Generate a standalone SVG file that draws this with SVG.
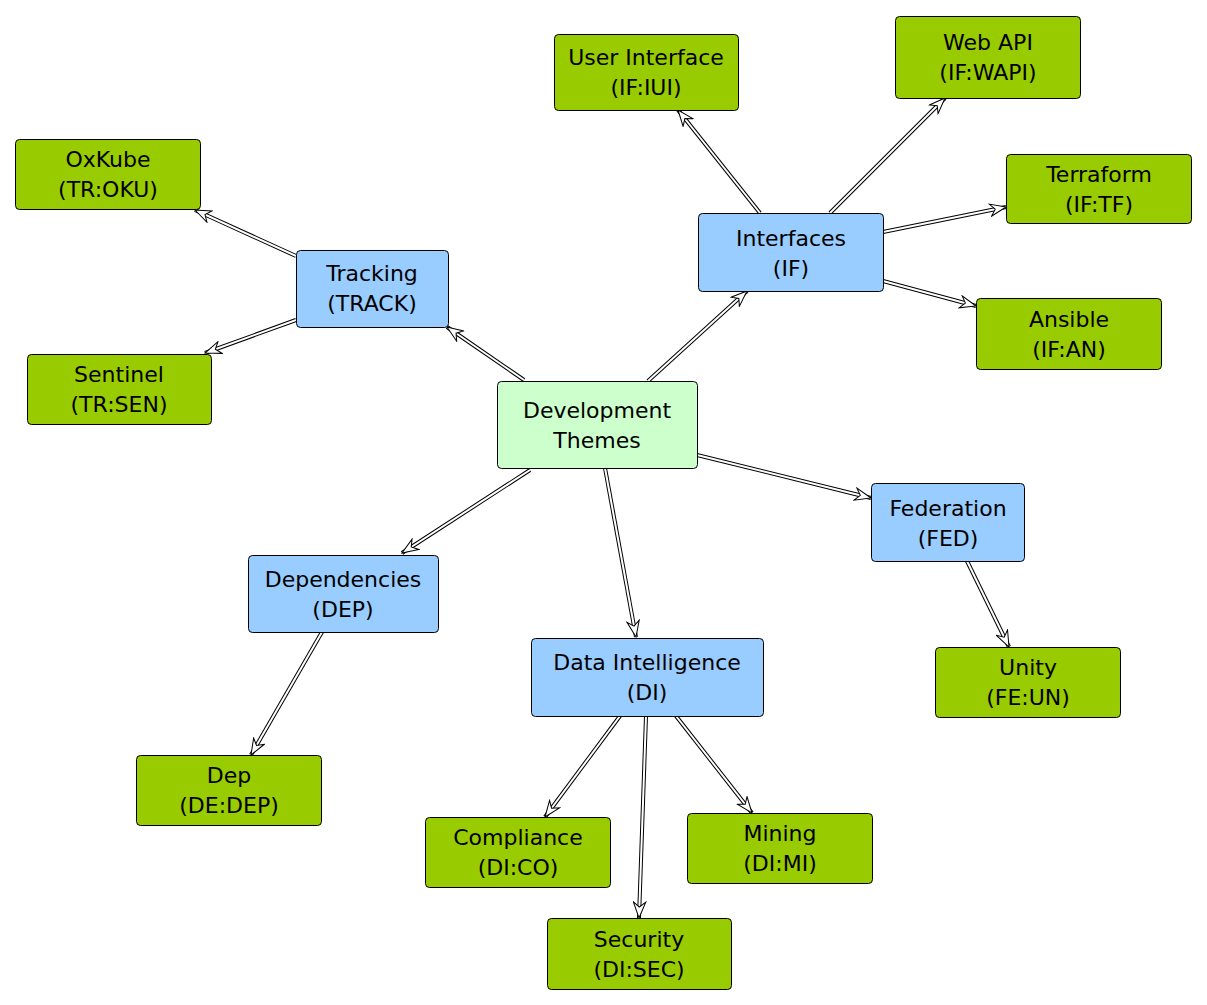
<svg xmlns="http://www.w3.org/2000/svg" width="1207" height="1005" viewBox="0 0 1207 1005">
<defs>
<style>
.n rect{stroke:#000;stroke-width:1}
.leaf rect{fill:#99cc00}
.mid rect{fill:#99ccff}
.root rect{fill:#ccffcc}
text{font-family:"DejaVu Sans",sans-serif;font-size:22px;fill:#000;text-anchor:middle}
.o{fill:none;stroke:#000;stroke-width:4}
.i{fill:none;stroke:#fff;stroke-width:2;marker-end:url(#ah)}
</style>
<marker id="ah" viewBox="0 0 18 14" refX="17" refY="7" markerWidth="18" markerHeight="14" markerUnits="userSpaceOnUse" orient="auto">
<path d="M17,7 L1,0.8 L6,7 L1,13.2 Z" fill="#fff" stroke="#000" stroke-width="1"/>
</marker>
</defs>
<rect width="1207" height="1005" fill="#fff"/>
<g id="connectors">
<path class="o" d="M524,380 L447,327"/><path class="i" d="M524,380 L447,327"/>
<path class="o" d="M648,381 L747,291"/><path class="i" d="M648,381 L747,291"/>
<path class="o" d="M697,455 L871,498"/><path class="i" d="M697,455 L871,498"/>
<path class="o" d="M530,470 L402,553"/><path class="i" d="M530,470 L402,553"/>
<path class="o" d="M605,468 L636,637"/><path class="i" d="M605,468 L636,637"/>
<path class="o" d="M296,256 L195,210"/><path class="i" d="M296,256 L195,210"/>
<path class="o" d="M296,320 L205,353"/><path class="i" d="M296,320 L205,353"/>
<path class="o" d="M760,213 L678,110"/><path class="i" d="M760,213 L678,110"/>
<path class="o" d="M830,213 L945,98"/><path class="i" d="M830,213 L945,98"/>
<path class="o" d="M883,232 L1006,207"/><path class="i" d="M883,232 L1006,207"/>
<path class="o" d="M883,281 L976,306"/><path class="i" d="M883,281 L976,306"/>
<path class="o" d="M967,561 L1009,647"/><path class="i" d="M967,561 L1009,647"/>
<path class="o" d="M322,632 L251,755"/><path class="i" d="M322,632 L251,755"/>
<path class="o" d="M620,716 L545,817"/><path class="i" d="M620,716 L545,817"/>
<path class="o" d="M646,716 L639,918"/><path class="i" d="M646,716 L639,918"/>
<path class="o" d="M676,716 L752,813"/><path class="i" d="M676,716 L752,813"/>
</g>
<g id="oxkube" class="n leaf"><rect x="15.5" y="139.5" width="185" height="70" rx="4"/><text x="108" y="167">OxKube</text><text x="108" y="197">(TR:OKU)</text></g>
<g id="tracking" class="n mid"><rect x="296.5" y="250.5" width="152" height="77" rx="4"/><text x="372" y="281">Tracking</text><text x="372" y="311">(TRACK)</text></g>
<g id="sentinel" class="n leaf"><rect x="27.5" y="354.5" width="184" height="70" rx="4"/><text x="119" y="382">Sentinel</text><text x="119" y="412">(TR:SEN)</text></g>
<g id="userinterface" class="n leaf"><rect x="554.5" y="34.5" width="184" height="76" rx="4"/><text x="646" y="65">User Interface</text><text x="646" y="95">(IF:IUI)</text></g>
<g id="webapi" class="n leaf"><rect x="895.5" y="16.5" width="185" height="82" rx="4"/><text x="988" y="50">Web API</text><text x="988" y="80">(IF:WAPI)</text></g>
<g id="terraform" class="n leaf"><rect x="1006.5" y="154.5" width="185" height="69" rx="4"/><text x="1099" y="182">Terraform</text><text x="1099" y="212">(IF:TF)</text></g>
<g id="interfaces" class="n mid"><rect x="698.5" y="213.5" width="185" height="78" rx="4"/><text x="791" y="246">Interfaces</text><text x="791" y="276">(IF)</text></g>
<g id="ansible" class="n leaf"><rect x="976.5" y="298.5" width="185" height="71" rx="4"/><text x="1069" y="327">Ansible</text><text x="1069" y="357">(IF:AN)</text></g>
<g id="devthemes" class="n root"><rect x="497.5" y="381.5" width="200" height="87" rx="4"/><text x="597" y="418">Development</text><text x="597" y="448">Themes</text></g>
<g id="federation" class="n mid"><rect x="871.5" y="483.5" width="153" height="78" rx="4"/><text x="948" y="516">Federation</text><text x="948" y="546">(FED)</text></g>
<g id="unity" class="n leaf"><rect x="935.5" y="647.5" width="185" height="70" rx="4"/><text x="1028" y="675">Unity</text><text x="1028" y="705">(FE:UN)</text></g>
<g id="dependencies" class="n mid"><rect x="248.5" y="555.5" width="190" height="77" rx="4"/><text x="343" y="587">Dependencies</text><text x="343" y="617">(DEP)</text></g>
<g id="dataintelligence" class="n mid"><rect x="531.5" y="638.5" width="232" height="78" rx="4"/><text x="647" y="670">Data Intelligence</text><text x="647" y="700">(DI)</text></g>
<g id="dep" class="n leaf"><rect x="136.5" y="755.5" width="185" height="70" rx="4"/><text x="229" y="783">Dep</text><text x="229" y="813">(DE:DEP)</text></g>
<g id="compliance" class="n leaf"><rect x="425.5" y="817.5" width="185" height="70" rx="4"/><text x="518" y="845">Compliance</text><text x="518" y="875">(DI:CO)</text></g>
<g id="mining" class="n leaf"><rect x="687.5" y="813.5" width="185" height="70" rx="4"/><text x="780" y="841">Mining</text><text x="780" y="871">(DI:MI)</text></g>
<g id="security" class="n leaf"><rect x="547.5" y="918.5" width="184" height="71" rx="4"/><text x="639" y="947">Security</text><text x="639" y="977">(DI:SEC)</text></g>
</svg>
